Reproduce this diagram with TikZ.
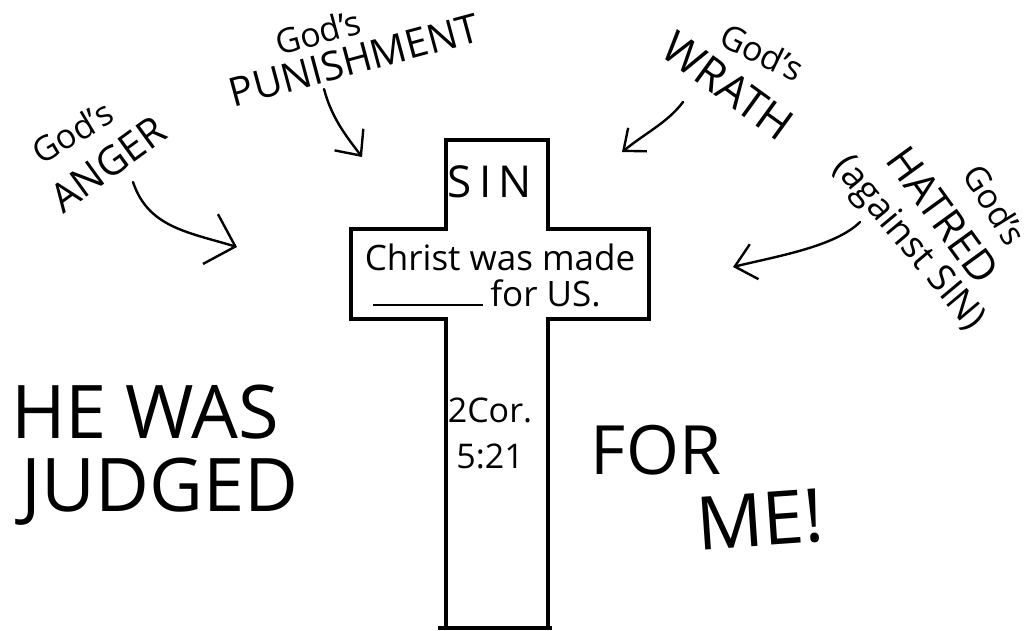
\documentclass[tikz,border=0pt]{standalone}
\usepackage{fontspec}
\setmainfont{Open Sans}
\usetikzlibrary{arrows.meta}

\begin{document}
\begin{tikzpicture}[x=1pt, y=-1pt,
        note/.style={inner sep=0pt, font=\fontsize{34}{34}\selectfont},
        word/.style={inner sep=0pt, font=\fontsize{40}{40}\selectfont},
        big/.style={inner sep=0pt, font=\fontsize{74}{74}\selectfont},
        pointer/.style={line width=2.4pt, line cap=round, line join=round,
            -{Straight Barb[length=20pt,width=36pt]}},
        outline/.style={line width=3.2pt, line join=miter}]
        \useasboundingbox (0,0) rectangle (1032,630);

        % the cross
        \draw[outline] (446,628) -- (446,319) -- (351,319) -- (351,229) -- (446,229)
            -- (446,140) -- (548,140) -- (548,229) -- (649,229) -- (649,319)
            -- (548,319) -- (548,628);
        \draw[outline] (438,628) -- (552,628);

        \node[word, font=\fontsize{44}{44}\selectfont] (sin) at (490,182) {S\,I\,N};
        \node[note, font=\fontsize{35}{35}\selectfont] (made) at (500,257) {Christ was made};
        \node[note, font=\fontsize{35}{35}\selectfont, anchor=base] (forus) at (487,306) {\rule{110pt}{2.2pt}\hspace{7pt}for US.};
        \node[note] (cor) at (490,410) {2Cor.};
        \node[note] (ref) at (490,456) {5:21};

        % labels round the cross
        \node[note, rotate=15] (godp) at (318,32) {God's};
        \node[word, rotate=15] (punish) at (354,60) {PUNISHMENT};
        \node[note, rotate=31] (goda) at (72,132) {God's};
        \node[word, rotate=36] (anger) at (108,164) {ANGER};
        \node[note, rotate=-26] (godw) at (762,52) {God's};
        \node[word, font=\fontsize{44}{44}\selectfont, rotate=-36] (wrath) at (728,86) {WRATH};
        \node[note, rotate=-58] (godh) at (995,205) {God's};
        \node[word, font=\fontsize{42}{42}\selectfont, rotate=-54] (hatred) at (943,215) {HATRED};
        \node[note, font=\fontsize{37}{37}\selectfont, rotate=-50] (against) at (908,244) {(against SIN)};

        \node[big] (he) at (145,412) {HE WAS};
        \node[big] (judged) at (160,492) {JUDGED};
        \node[big, font=\fontsize{68}{68}\selectfont] (for) at (656,450) {FOR};
        \node[big, rotate=4] (me) at (760,520) {ME!};

        % arrows
        \coordinate (a1) at (133,182);
        \coordinate (a2) at (237,247);
        \coordinate (p1) at (324,89);
        \coordinate (p2) at (362,157);
        \coordinate (w1) at (683,102);
        \coordinate (w2) at (622,152);
        \coordinate (h1) at (860,222);
        \coordinate (h2) at (733,267);

        \draw[pointer, -{Straight Barb[length=26pt,width=52pt]}] (a1) .. controls +(15,45) and +(-50,-15) .. (a2);
        \draw[pointer] (p1) .. controls +(8,30) and +(-15,-20) .. (p2);
        \draw[pointer, -{Straight Barb[length=18pt,width=30pt]}] (w1) .. controls +(-15,20) and +(25,-20) .. (w2);
        \draw[pointer] (h1) .. controls +(-25,25) and +(40,-10) .. (h2);
\end{tikzpicture}
\end{document}
